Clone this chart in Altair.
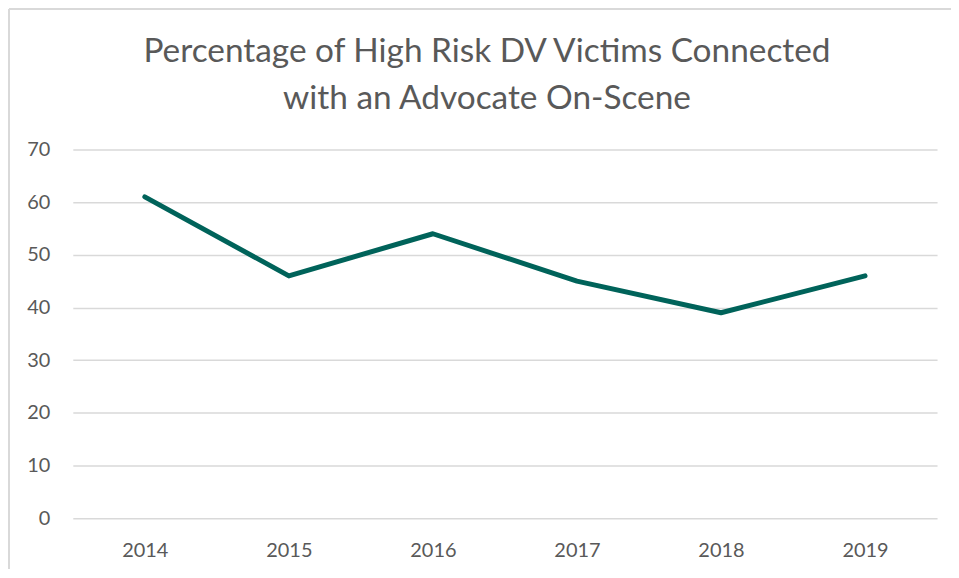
import altair as alt
import pandas as pd

years = ["2014", "2015", "2016", "2017", "2018", "2019"]
values = [61, 46, 54, 45, 39, 46]

df = pd.DataFrame({"year": years, "value": values})

TEXT = "#595959"
GRID = "#d9d9d9"
LINE = "#00635A"
FONT = "Lato"

line = alt.Chart(df).mark_line(color=LINE, strokeWidth=5, strokeCap="round", strokeJoin="round").encode(
    x=alt.X("year:N", sort=years, title=None,
            scale=alt.Scale(type="point", padding=0.5),
            axis=alt.Axis(labelAngle=0, labelFontSize=20, labelColor=TEXT, labelFont=FONT,
                          ticks=False, domain=False, grid=False, labelPadding=22)),
    y=alt.Y("value:Q", title=None,
            scale=alt.Scale(domain=[0, 70], nice=False),
            axis=alt.Axis(values=list(range(0, 71, 10)), labelFontSize=20, labelColor=TEXT,
                          labelFont=FONT, ticks=False, domain=False, gridColor=GRID,
                          gridWidth=1.5, labelPadding=23)),
)

border_left = alt.Chart(df).mark_rule(color=GRID, strokeWidth=2).encode(
    x=alt.value(-64), y=alt.value(-141), y2=alt.value(440)
)
border_top = alt.Chart(df).mark_rule(color=GRID, strokeWidth=2).encode(
    x=alt.value(-64), x2=alt.value(885), y=alt.value(-141)
)

chart = alt.layer(border_left, border_top, line).properties(
    width=867,
    height=370,
    padding={"left": 65, "top": 141, "right": 14, "bottom": 50},
    autosize=alt.AutoSizeParams(type="none"),
    title=alt.Title(
        ["Percentage of High Risk DV Victims Connected", "with an Advocate On-Scene"],
        font=FONT, fontSize=33.5, fontWeight="normal", color=TEXT,
        anchor="middle", dx=-18, offset=-135, lineHeight=47, baseline="alphabetic",
    ),
).configure(background="white").configure_view(stroke=None)

chart.save("out.html", embed_options={"renderer": "svg", "actions": False})
